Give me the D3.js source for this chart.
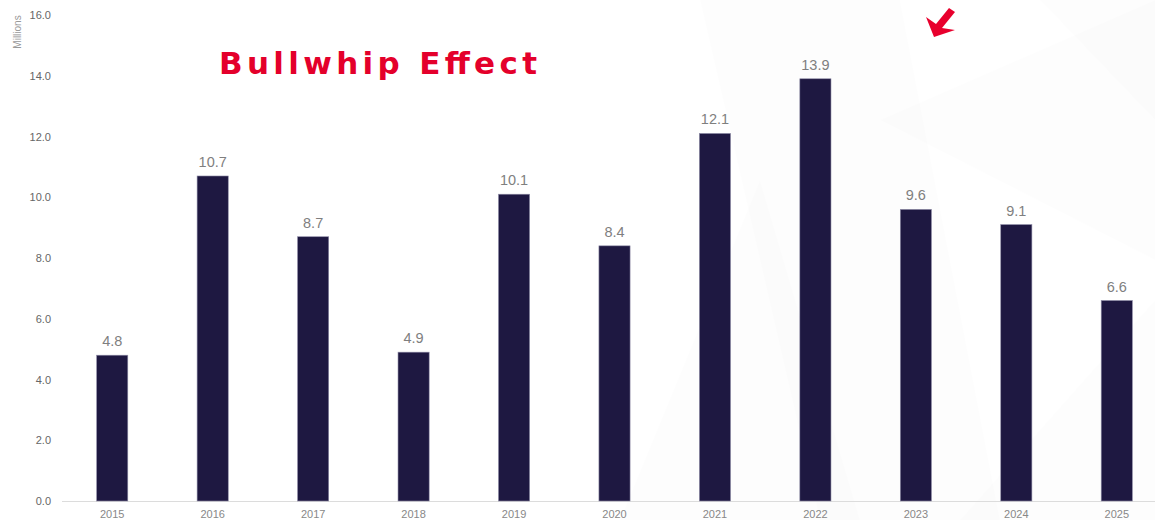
<!DOCTYPE html>
<html>
<head>
<meta charset="utf-8">
<script src="https://cdn.jsdelivr.net/npm/d3@7"></script>
<style>
  html, body { margin: 0; padding: 0; background: #fff; }
  svg { display: block; font-family: Arial, "Liberation Sans", sans-serif; }
</style>
</head>
<body>
<svg id="chart" width="1155" height="520"></svg>
<script>
// Chart data
const years = ['2015', '2016', '2017', '2018', '2019', '2020', '2021', '2022', '2023', '2024', '2025'];
const values = [4.8, 10.7, 8.7, 4.9, 10.1, 8.4, 12.1, 13.9, 9.6, 9.1, 6.6];
const yTicks = [0, 2, 4, 6, 8, 10, 12, 14, 16];

const width = 1155, height = 520;
const margin = { top: 15, right: -12, bottom: 19, left: 62 };

const svg = d3.select('#chart');

// faint background shards on the right side
const shards = [
    [[700, 0], [900, 0], [1000, 520], [820, 520]],
    [[880, 120], [1155, 0], [1155, 260]],
    [[960, 520], [1155, 300], [1155, 520]],
    [[1040, 0], [1155, 0], [1155, 120]],
    [[620, 520], [760, 180], [860, 520]]
];
svg.append('g')
    .selectAll('path')
    .data(shards)
    .join('path')
    .attr('d', d => 'M' + d.join('L') + 'Z')
    .attr('fill', '#000')
    .attr('opacity', 0.009);

const x = d3.scaleBand()
    .domain(years)
    .range([margin.left, width - margin.right])
    .paddingInner(0.69)
    .paddingOuter(0.345);

const y = d3.scaleLinear()
    .domain([0, 16])
    .range([height - margin.bottom, margin.top]);

// y axis labels
const yAxis = svg.append('g')
    .attr('transform', `translate(${margin.left},0)`)
    .call(d3.axisLeft(y).tickValues(yTicks).tickFormat(d3.format('.1f')).tickSize(0).tickPadding(11));
yAxis.select('.domain').remove();
yAxis.selectAll('text').attr('fill', '#666').style('font-size', '11px');

svg.append('text')
    .attr('transform', `translate(21,32) rotate(-90)`)
    .attr('text-anchor', 'middle')
    .attr('fill', '#999')
    .style('font-size', '10px')
    .text('Millions');

// x axis
const xAxis = svg.append('g')
    .attr('transform', `translate(0,${y(0)})`)
    .call(d3.axisBottom(x).tickSize(0).tickPadding(9));
xAxis.select('.domain').attr('stroke', '#dcdcdc').attr('d', `M${margin.left},0.5H${width}`);
xAxis.selectAll('text').attr('fill', '#888').style('font-size', '11px');

// bars
svg.append('g')
    .selectAll('rect')
    .data(values)
    .join('rect')
    .attr('x', (d, i) => x(years[i]))
    .attr('y', d => y(d))
    .attr('width', x.bandwidth())
    .attr('height', d => y(0) - y(d))
    .attr('fill', '#1e1841')
    .attr('stroke', '#8e8ba6')
    .attr('stroke-width', 0.6);

// value labels
svg.append('g')
    .selectAll('text')
    .data(values)
    .join('text')
    .attr('x', (d, i) => x(years[i]) + x.bandwidth() / 2)
    .attr('y', d => y(d) - 9)
    .attr('text-anchor', 'middle')
    .attr('fill', '#7f7f7f')
    .style('font-size', '14.5px')
    .text(d => d.toFixed(1));

// title
svg.append('text')
    .attr('x', 219)
    .attr('y', 74)
    .attr('fill', '#e4002b')
    .attr('textLength', 318)
    .attr('lengthAdjust', 'spacing')
    .style('font-family', '"DejaVu Sans", Arial, sans-serif')
    .style('font-weight', 700)
    .style('font-size', '31px')
    .text('Bullwhip Effect');

// red arrow pointing down-left
svg.append('path')
    .attr('d', 'M949,8 L955,12 L942,28 L955,30 L934,37 L926,17 L936,24 Z')
    .attr('fill', '#e8002d');
</script>
</body>
</html>
